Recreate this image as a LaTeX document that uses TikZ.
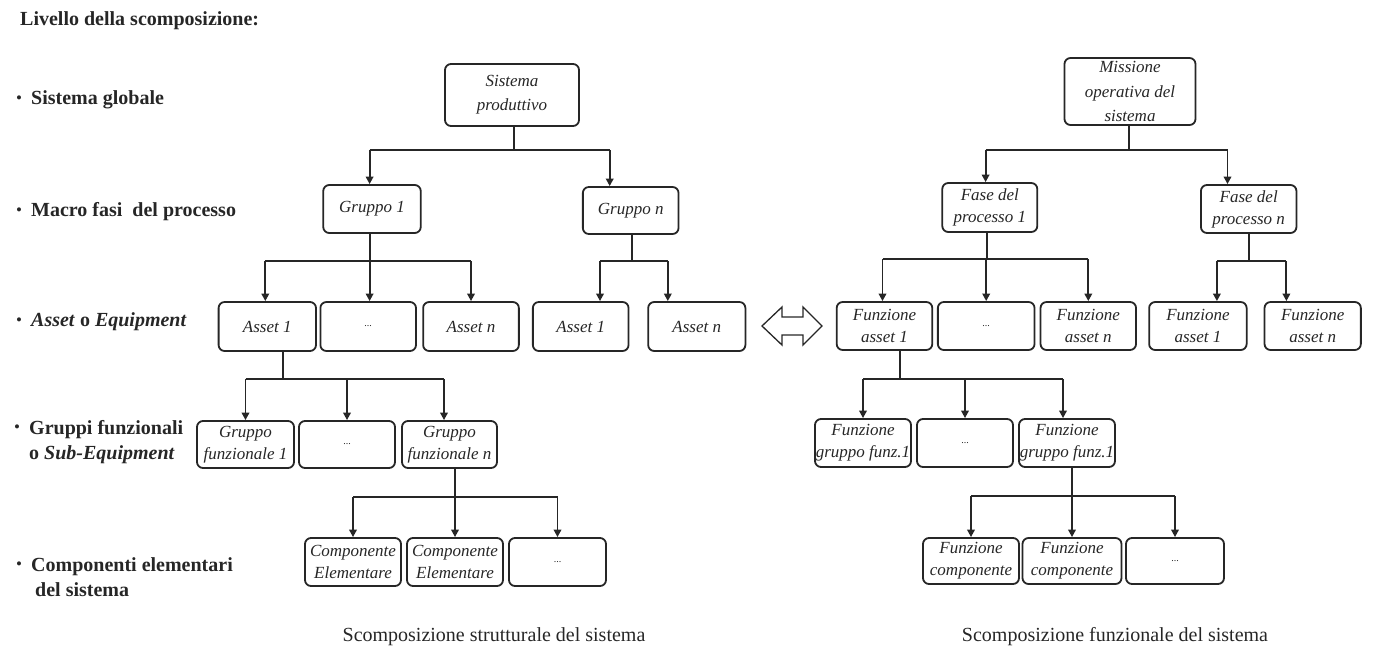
\documentclass[tikz,border=0pt]{standalone}
\usepackage{fontspec}
\setmainfont{Liberation Serif}
\usetikzlibrary{arrows.meta}
\definecolor{ink}{HTML}{262626}
\tikzset{
  box/.style={draw=ink, line width=1.8pt, rounded corners=6pt, inner sep=0pt,
    align=center, font=\fontsize{17}{22}\selectfont\itshape, text=ink},
  conn/.style={draw=ink, line width=1.9pt},
  arr/.style={conn, -{Triangle[length=7.5pt,width=7.5pt]}},
  lvl/.style={anchor=west, align=left, font=\fontsize{20}{25}\selectfont\bfseries, text=ink, inner sep=0pt},
  bul/.style={anchor=center, font=\fontsize{17}{17}\selectfont, text=ink, inner sep=0pt},
  captext/.style={font=\fontsize{20}{22}\selectfont, text=ink, inner sep=0pt}
}
\newcommand{\bx}[6]{\node[box, minimum width=#4pt, minimum height=#5pt] (#1) at (#2,#3) {#6};}
\newcommand{\ellip}{\textup{\fontsize{10}{12}\selectfont ...}}
\begin{document}
\begin{tikzpicture}[x=1pt,y=-1pt]
\useasboundingbox (0,0) rectangle (1374,667);

% levels of the decomposition
\node[lvl] (title) at (20,21) {Livello della scomposizione:};
\node[bul] (d1) at (19,100) {\textbullet};
\node[lvl] (l1) at (31,100) {Sistema globale};
\node[bul] (d2) at (19,212) {\textbullet};
\node[lvl] (l2) at (31,212) {Macro fasi\ \ del processo};
\node[bul] (d3) at (19,322) {\textbullet};
\node[lvl] (l3) at (31,322) {\textit{Asset} o \textit{Equipment}};
\node[bul] (d4) at (17,429) {\textbullet};
\node[lvl] (l4) at (29,442) {Gruppi funzionali\\o \textit{Sub-Equipment}};
\node[bul] (d5) at (19,566) {\textbullet};
\node[lvl] (l5) at (31,577) {Componenti elementari\\\hspace*{4pt}del sistema};

% structural tree
\node[box, minimum width=134pt, minimum height=62pt, font=\fontsize{17}{24}\selectfont\itshape] (sp) at (512,95) {Sistema\\produttivo};
\bx{g1}{372}{209}{97.5}{48}{Gruppo 1}
\bx{gn}{630.7}{210.5}{95.7}{47}{Gruppo n}
\bx{a1}{267.3}{326.5}{97.4}{49}{Asset 1}
\bx{ad}{368.2}{326.5}{95.6}{49}{\ellip}
\bx{an}{471}{326.5}{95.7}{49}{Asset n}
\bx{b1}{580.7}{326.5}{95.7}{49}{Asset 1}
\bx{bn}{696.8}{326.5}{97.2}{49}{Asset n}
\bx{gf1}{245.5}{444.5}{97}{47}{Gruppo\\funzionale 1}
\bx{gfd}{347}{444.5}{96}{47}{\ellip}
\bx{gfn}{449.5}{444.5}{95}{47}{Gruppo\\funzionale n}
\bx{ce1}{353}{562}{96}{48}{Componente\\Elementare}
\bx{ce2}{455}{562}{96}{48}{Componente\\Elementare}
\bx{ced}{557.5}{562}{97}{48}{\ellip}

% functional tree
\node[box, minimum width=131pt, minimum height=67pt, font=\fontsize{17}{24.5}\selectfont\itshape] (mo) at (1130,91.5) {Missione\\operativa del\\sistema};
\bx{f1}{989.8}{207.5}{95}{49}{Fase del\\processo 1}
\bx{fn}{1248.7}{209}{95.5}{48}{Fase del\\processo n}
\bx{fa1}{884.5}{326}{95.6}{48}{Funzione\\asset 1}
\bx{fad}{986.2}{326}{96.7}{48}{\ellip}
\bx{fan}{1088.3}{326}{95.5}{48}{Funzione\\asset n}
\bx{fb1}{1197.9}{326}{97.5}{48}{Funzione\\asset 1}
\bx{fbn}{1312.7}{326}{96.3}{48}{Funzione\\asset n}
\bx{fg1}{863}{443}{96}{48}{Funzione\\gruppo funz.1}
\bx{fgd}{965}{443}{96}{48}{\ellip}
\bx{fgn}{1067}{443}{96}{48}{Funzione\\gruppo funz.1}
\bx{fc1}{971}{561}{96}{46}{Funzione\\componente}
\bx{fc2}{1072}{561}{99}{46}{Funzione\\componente}
\bx{fcd}{1175}{561}{98}{46}{\ellip}

% attachment points that sit off the box centres
\coordinate (spout) at ([xshift=2]sp.south);
\coordinate (g1in)  at ([xshift=-2.4]g1.north);
\coordinate (gnin)  at ([xshift=-21]gn.north);
\coordinate (g1out) at ([xshift=-2.4]g1.south);
\coordinate (gnout) at ([xshift=1.3]gn.south);
\coordinate (a1in)  at ([xshift=-2]a1.north);
\coordinate (adin)  at ([xshift=1.4]ad.north);
\coordinate (b1in)  at ([xshift=19.3]b1.north);
\coordinate (bnin)  at ([xshift=-29]bn.north);
\coordinate (a1out) at ([xshift=15.7]a1.south);
\coordinate (gfnin) at ([xshift=-5.5]gfn.north);
\coordinate (gfnout) at ([xshift=5.5]gfn.south);
\coordinate (moout) at ([xshift=-1.2]mo.south);
\coordinate (f1in)  at ([xshift=-4.2]f1.north);
\coordinate (fnin)  at ([xshift=-21.2]fn.north);
\coordinate (f1out) at ([xshift=-3]f1.south);
\coordinate (fnout) at ([xshift=0.7]fn.south);
\coordinate (fa1in) at ([xshift=-2]fa1.north);
\coordinate (fb1in) at ([xshift=19]fb1.north);
\coordinate (fbnin) at ([xshift=-26.3]fbn.north);
\coordinate (fa1out) at ([xshift=15.5]fa1.south);
\coordinate (fgnin) at ([xshift=-4]fgn.north);
\coordinate (fgnout) at ([xshift=5]fgn.south);

% structural tree connectors
\coordinate (s0) at (514,150);
\draw[conn] (spout) -- (s0);
\draw[conn] (s0 -| g1in) -- (s0 -| gnin);
\draw[arr] (s0 -| g1in) -- (g1in);
\draw[arr] (s0 -| gnin) -- (gnin);

\coordinate (s1) at (369.6,261);
\draw[conn] (g1out) -- (s1);
\draw[conn] (s1 -| a1in) -- (s1 -| an.north);
\draw[arr] (s1 -| a1in) -- (a1in);
\draw[arr] (s1 -| adin) -- (adin);
\draw[arr] (s1 -| an.north) -- (an.north);

\coordinate (s2) at (632,261);
\draw[conn] (gnout) -- (s2);
\draw[conn] (s2 -| b1in) -- (s2 -| bnin);
\draw[arr] (s2 -| b1in) -- (b1in);
\draw[arr] (s2 -| bnin) -- (bnin);

\coordinate (s3) at (283,379);
\draw[conn] (a1out) -- (s3);
\draw[conn] (s3 -| gf1.north) -- (s3 -| gfnin);
\draw[arr] (s3 -| gf1.north) -- (gf1.north);
\draw[arr] (s3 -| gfd.north) -- (gfd.north);
\draw[arr] (s3 -| gfnin) -- (gfnin);

\coordinate (s4) at (455,497);
\draw[conn] (gfnout) -- (s4);
\draw[conn] (s4 -| ce1.north) -- (s4 -| ced.north);
\draw[arr] (s4 -| ce1.north) -- (ce1.north);
\draw[arr] (s4 -| ce2.north) -- (ce2.north);
\draw[arr] (s4 -| ced.north) -- (ced.north);

% functional tree connectors
\coordinate (t0) at (1128.8,150);
\draw[conn] (moout) -- (t0);
\draw[conn] (t0 -| f1in) -- (t0 -| fnin);
\draw[arr] (t0 -| f1in) -- (f1in);
\draw[arr] (t0 -| fnin) -- (fnin);

\coordinate (t1) at (986.8,259);
\draw[conn] (f1out) -- (t1);
\draw[conn] (t1 -| fa1in) -- (t1 -| fan.north);
\draw[arr] (t1 -| fa1in) -- (fa1in);
\draw[arr] (t1 -| fad.north) -- (fad.north);
\draw[arr] (t1 -| fan.north) -- (fan.north);

\coordinate (t2) at (1249.4,261);
\draw[conn] (fnout) -- (t2);
\draw[conn] (t2 -| fb1in) -- (t2 -| fbnin);
\draw[arr] (t2 -| fb1in) -- (fb1in);
\draw[arr] (t2 -| fbnin) -- (fbnin);

\coordinate (t3) at (900,379);
\draw[conn] (fa1out) -- (t3);
\draw[conn] (t3 -| fg1.north) -- (t3 -| fgnin);
\draw[arr] (t3 -| fg1.north) -- (fg1.north);
\draw[arr] (t3 -| fgd.north) -- (fgd.north);
\draw[arr] (t3 -| fgnin) -- (fgnin);

\coordinate (t4) at (1072,496);
\draw[conn] (fgnout) -- (t4);
\draw[conn] (t4 -| fc1.north) -- (t4 -| fcd.north);
\draw[arr] (t4 -| fc1.north) -- (fc1.north);
\draw[arr] (t4 -| fc2.north) -- (fc2.north);
\draw[arr] (t4 -| fcd.north) -- (fcd.north);

% equivalence between the two decompositions
\draw[draw=ink, line width=1.3pt, line join=miter]
  (762,326) -- (782,307) -- (782,317) -- (803,317) -- (803,307) -- (822,326)
  -- (803,345) -- (803,335) -- (782,335) -- (782,345) -- cycle;

% captions
\node[captext] (c1) at (494,637) {Scomposizione strutturale del sistema};
\node[captext] (c2) at (1115,637) {Scomposizione funzionale del sistema};
\end{tikzpicture}
\end{document}
